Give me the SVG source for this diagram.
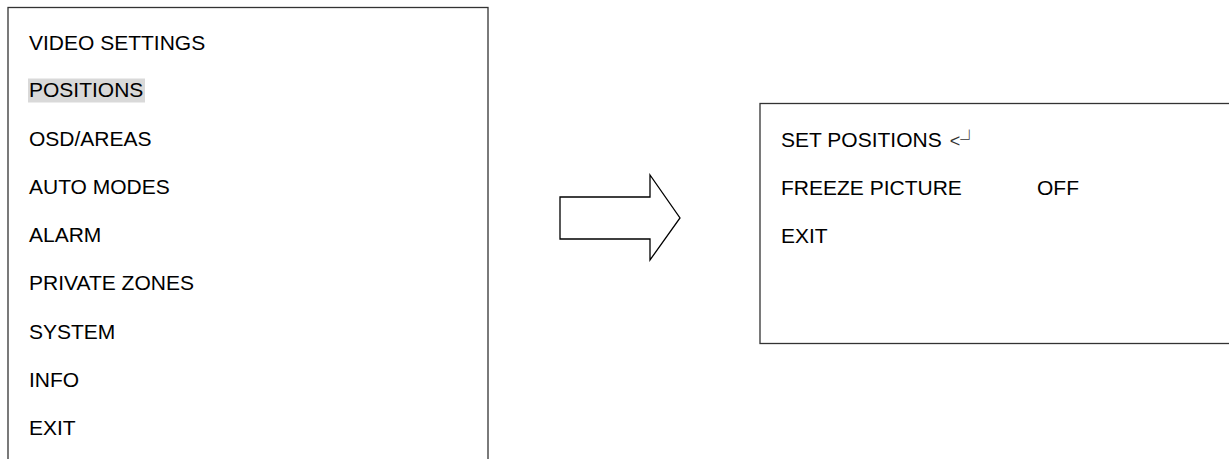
<svg xmlns="http://www.w3.org/2000/svg" width="1229" height="459" viewBox="0 0 1229 459">
<style>
.box{fill:#fff;stroke:#333;stroke-width:1.3}
.t{font-family:"Liberation Sans",Arial,sans-serif;font-size:21px;fill:#000}
.sym{fill:#333}
.arrow{fill:#fff;stroke:#000;stroke-width:1.3;stroke-linejoin:miter}
</style>
<rect width="1229" height="459" fill="#fff"/>
<g id="main-menu">
<rect class="box" x="8" y="7.5" width="480" height="470"/>
<rect x="28" y="78.5" width="117" height="24" fill="#d9d9d9"/>
<text class="t" x="29" y="50">VIDEO SETTINGS</text>
<text class="t" x="29" y="97">POSITIONS</text>
<text class="t" x="29" y="145.5">OSD/AREAS</text>
<text class="t" x="29" y="193.5">AUTO MODES</text>
<text class="t" x="29" y="242">ALARM</text>
<text class="t" x="29" y="290">PRIVATE ZONES</text>
<text class="t" x="29" y="338.5">SYSTEM</text>
<text class="t" x="29" y="386.5">INFO</text>
<text class="t" x="29" y="435">EXIT</text>
</g>
<g id="connectors">
<polygon class="arrow" points="560,197 650,197 650,175 680,218 650,260 650,239 560,239"/>
</g>
<g id="positions-menu">
<rect class="box" x="760" y="103.5" width="500" height="240"/>
<text class="t" x="781" y="147">SET POSITIONS</text>
<text class="sym" x="949.8" y="147" style="font-family:'Liberation Sans',sans-serif;font-size:18px">&lt;</text>
<text class="sym" x="960.3" y="146.1" style="font-family:'Noto Sans CJK SC',sans-serif;font-size:18px">┘</text>
<text class="t" x="781" y="195">FREEZE PICTURE</text>
<text class="t" x="1037" y="195">OFF</text>
<text class="t" x="781" y="243">EXIT</text>
</g>
</svg>
